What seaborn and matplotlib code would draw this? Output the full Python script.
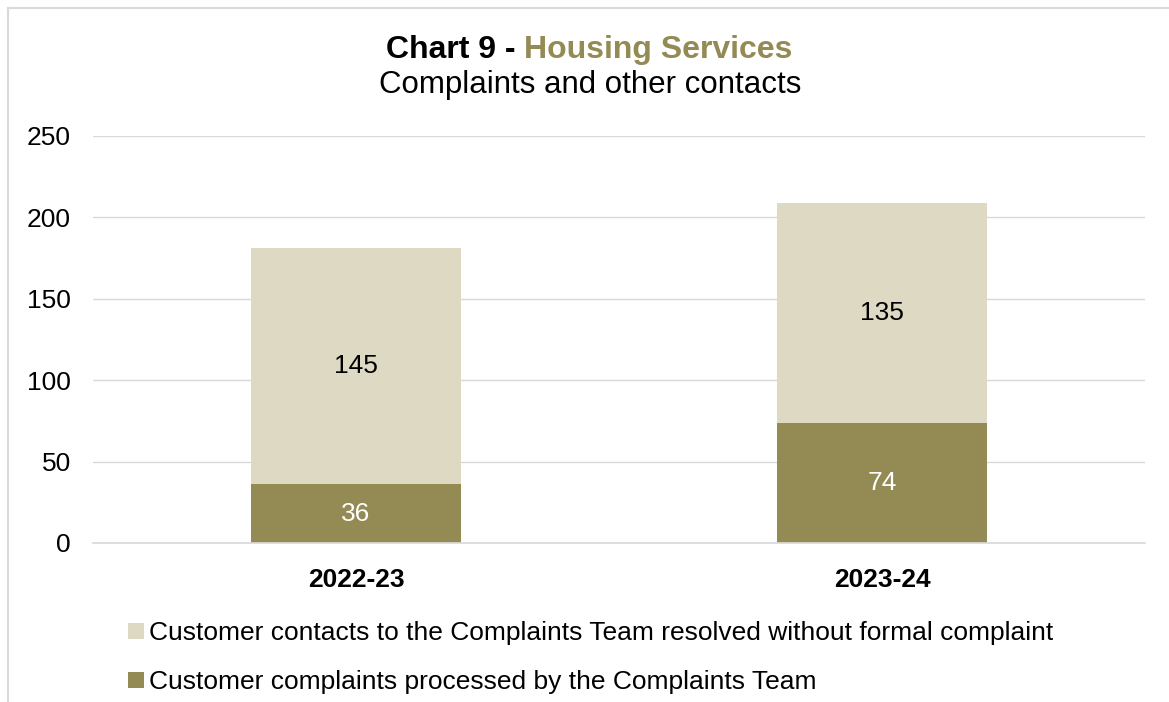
import pandas as pd
import matplotlib.pyplot as plt
import seaborn as sns

# data
years = ["2022-23", "2023-24"]
complaints = [36, 74]
other_contacts = [145, 135]
y_ticks = [0, 50, 100, 150, 200, 250]

dark = "#948A54"
light = "#DDD9C3"

sns.set_theme(style="white")
plt.rcParams["font.family"] = ["Liberation Sans", "DejaVu Sans"]

df = pd.DataFrame({"year": years, "complaints": complaints, "other": other_contacts})
df["total"] = df["complaints"] + df["other"]

fig = plt.figure(figsize=(11.69, 7.02), dpi=100)
ax = fig.add_axes([0.0796, 0.2265, 0.9, 0.5798])

# stacked bars: total (light) then complaints (dark) on top of it
sns.barplot(data=df, x="year", y="total", color=light, width=0.4, saturation=1, ax=ax,
            linewidth=0,
            label="Customer contacts to the Complaints Team resolved without formal complaint")
sns.barplot(data=df, x="year", y="complaints", color=dark, width=0.4, saturation=1, ax=ax,
            linewidth=0,
            label="Customer complaints processed by the Complaints Team")
handles, labels = ax.get_legend_handles_labels()
if ax.legend_ is not None:
    ax.legend_.remove()

for i in range(len(years)):
    ax.text(i, complaints[i] / 2, str(complaints[i]), ha="center", va="center",
            fontsize=19, color="white")
    ax.text(i, complaints[i] + other_contacts[i] / 2, str(other_contacts[i]),
            ha="center", va="center", fontsize=19, color="black")

ax.set_ylim(0, 250)
ax.set_yticks(y_ticks)
ax.set_xlabel("")
ax.set_ylabel("")
ax.yaxis.grid(True, color="#D9D9D9", linewidth=1)
ax.set_axisbelow(True)
for s in ["top", "right", "left"]:
    ax.spines[s].set_visible(False)
ax.spines["bottom"].set_color("#D9D9D9")
ax.tick_params(axis="y", labelsize=19, colors="black", length=0, pad=16)
ax.tick_params(axis="x", labelsize=19, colors="black", length=0, pad=18)
for lab in ax.get_xticklabels():
    lab.set_fontweight("bold")

# title in two colours
fig.text(0.4485, 0.918, "Chart 9 - ", ha="right", va="baseline",
         fontsize=23, fontweight="bold", color="black")
fig.text(0.4485, 0.918, "Housing Services", ha="left", va="baseline",
         fontsize=23, fontweight="bold", color=dark)
fig.text(0.505, 0.868, "Complaints and other contacts", ha="center", va="baseline",
         fontsize=22.5, color="black")

# legend (light series first, as in the original)
fig.legend(handles, labels, loc="upper left", bbox_to_anchor=(0.1005, 0.13), frameon=False,
           fontsize=19, handlelength=0.6, handleheight=0.6, handletextpad=0.2,
           labelspacing=0.95, borderaxespad=0, labelcolor="black")

# faint chart border
fig.add_artist(plt.Line2D([0.0068, 0.0068], [0, 0.989], color="#D9D9D9", lw=1.5))
fig.add_artist(plt.Line2D([0.0068, 1], [0.989, 0.989], color="#D9D9D9", lw=1.5))

fig.savefig("out.png", dpi=100)
